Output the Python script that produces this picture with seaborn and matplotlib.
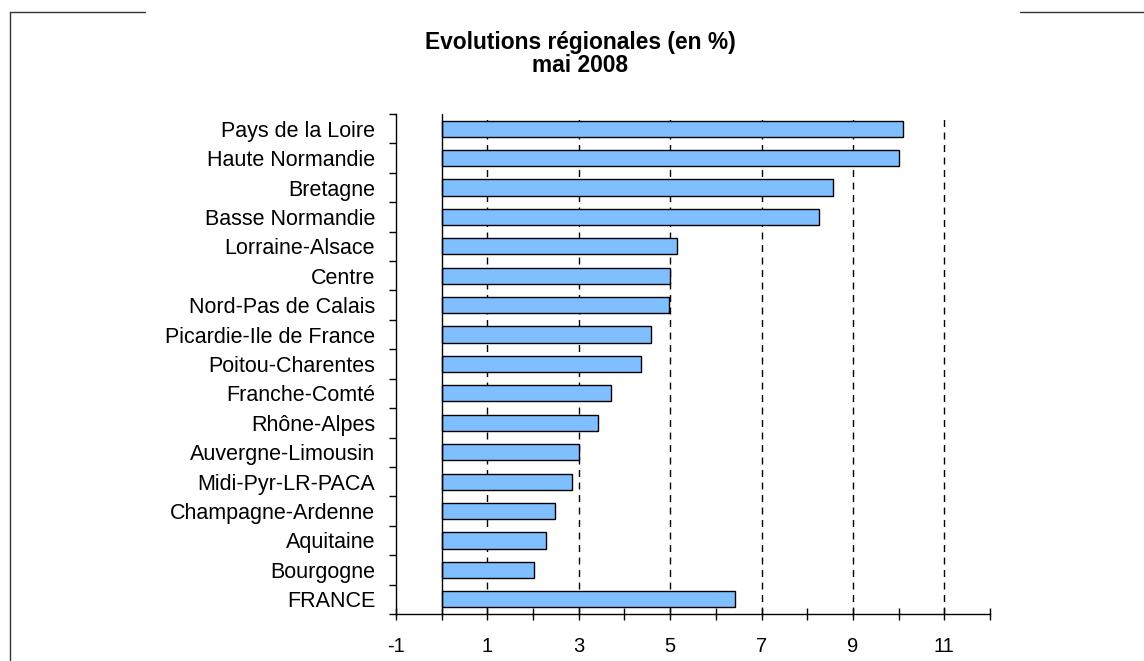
import numpy as np
import matplotlib
matplotlib.use("Agg")
import matplotlib.pyplot as plt
from matplotlib.lines import Line2D
import seaborn as sns

# Data
regions = [
    "Pays de la Loire", "Haute Normandie", "Bretagne", "Basse Normandie",
    "Lorraine-Alsace", "Centre", "Nord-Pas de Calais", "Picardie-Ile de France",
    "Poitou-Charentes", "Franche-Comté", "Rhône-Alpes", "Auvergne-Limousin",
    "Midi-Pyr-LR-PACA", "Champagne-Ardenne", "Aquitaine", "Bourgogne", "FRANCE",
]
evolution = [
    10.1, 10.0, 8.56, 8.26, 5.14, 5.0, 4.98, 4.57, 4.37, 3.7, 3.42,
    3.0, 2.86, 2.49, 2.29, 2.01, 6.43,
]
major_ticks = [-1, 1, 3, 5, 7, 9, 11]
minor_ticks = [0, 2, 4, 6, 8, 10, 12]

sns.set_style("white")
plt.rcParams["font.family"] = ["Liberation Sans", "DejaVu Sans"]
plt.rcParams["text.color"] = "black"
plt.rcParams["xtick.color"] = "black"
plt.rcParams["ytick.color"] = "black"

fig = plt.figure(figsize=(11.44, 6.61), dpi=100)
ax = fig.add_axes([396 / 1144, 1 - 614 / 661, (990 - 396) / 1144, (614 - 114) / 661])

sns.barplot(
    x=evolution, y=regions, orient="h", color="#80BFFF", saturation=1,
    edgecolor="black", linewidth=1, width=0.55, ax=ax, zorder=3,
)

n = len(regions)
ax.set_xlim(-1, 12)
ax.set_ylim(n - 0.5, -0.5)

# x axis
ax.set_xticks(major_ticks)
ax.set_xticklabels([str(t) for t in major_ticks], fontsize=14.5, color="black")
ax.set_xticks(minor_ticks, minor=True)
ax.tick_params(axis="x", which="both", direction="inout", length=9, width=1,
               color="black", pad=12, bottom=True)

# y axis: labels at centres, tick marks at category boundaries
ax.set_yticks(range(n))
ax.set_yticklabels(regions, fontsize=15.5, color="black")
ax.tick_params(axis="y", which="major", length=0, pad=15)
ax.set_yticks(np.arange(n + 1) - 0.5, minor=True)
ax.tick_params(axis="y", which="minor", direction="out", length=5, width=1,
               color="black", left=True)

ax.set_xlabel("")
ax.set_ylabel("")

for side in ["top", "right"]:
    ax.spines[side].set_visible(False)
for side in ["left", "bottom"]:
    ax.spines[side].set_color("black")
    ax.spines[side].set_linewidth(1)

# dashed gridlines and solid zero line
for g in major_ticks[1:]:
    ax.axvline(g, color="black", linestyle=(0, (5, 4)), linewidth=1, zorder=1)
ax.axvline(0, color="black", linewidth=1, zorder=4)

fig.text(580 / 1144, 1 - 54 / 661, "Evolutions régionales (en %)\nmai 2008",
         ha="center", va="center", fontsize=16.4, fontweight="bold",
         linespacing=1.05, color="black")

# outer frame fragments
frame_kw = dict(color="#333333", linewidth=1, transform=fig.transFigure)
fig.add_artist(Line2D([10 / 1144, 145 / 1144], [1 - 12 / 661] * 2, **frame_kw))
fig.add_artist(Line2D([1020 / 1144, 1], [1 - 12 / 661] * 2, **frame_kw))
fig.add_artist(Line2D([10 / 1144] * 2, [0, 1 - 12 / 661], **frame_kw))

fig.savefig("out.png", dpi=100)
